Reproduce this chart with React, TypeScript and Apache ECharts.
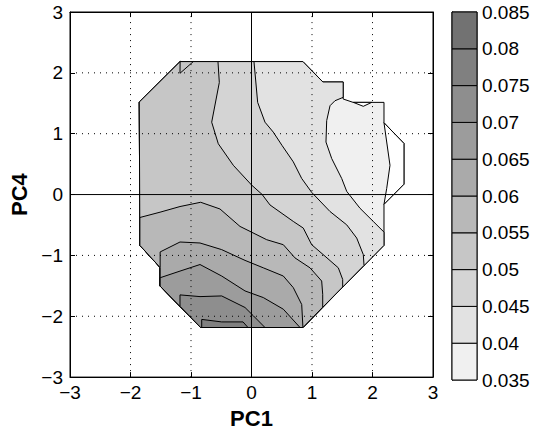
import React, { useEffect, useRef } from "react";
import * as echarts from "echarts";

type Pt = [number, number];

// Contour levels (colour-bar ticks) and grey value of each band between two levels
const levels = [0.035, 0.04, 0.045, 0.05, 0.055, 0.06, 0.065, 0.07, 0.075, 0.08, 0.085];
const bandGray = [240, 226, 212, 198, 184, 170, 156, 142, 128, 114];

// Axis ticks / grid
const axisMin = -3;
const axisMax = 3;
const dottedGrid = [-2, -1, 1, 2];
const zeroLines = [0];

// Outline of the region where the surface is defined (PC1, PC4)
const boundary: Pt[] = [
  [-1.18, 2.185], [0.85, 2.185], [1.18, 1.85], [1.515, 1.85], [1.515, 1.57],
  [1.68, 1.515], [2.19, 1.515], [2.19, 1.18], [2.52, 0.84], [2.52, 0.17],
  [2.19, -0.16], [2.19, -0.835], [0.85, -2.185], [-0.84, -2.185], [-1.51, -1.505],
  [-1.51, -1.2], [-1.845, -0.835], [-1.855, 1.52],
];

// Contour lines (PC1, PC4)
const contour035: Pt[] = [[2.19, 1.18], [2.289, 0.481], [2.235, 0.101], [2.19, -0.16]];
const contour035b: Pt[] = [[1.683, 1.515], [1.848, 1.45], [1.987, 1.515]];
const contour040: Pt[] = [
  [1.515, 1.597], [1.38, 1.542], [1.298, 1.46], [1.243, 1.215], [1.231, 0.863],
  [1.326, 0.591], [1.491, 0.264], [1.574, 0.052], [1.793, -0.225], [2.013, -0.442], [2.19, -0.617],
];
const contour045: Pt[] = [
  [0.041, 2.185], [0.102, 1.515], [0.223, 1.189], [0.36, 1.026], [0.504, 0.808],
  [0.691, 0.537], [0.83, 0.264], [0.995, 0.036], [1.298, -0.279], [1.574, -0.498],
  [1.739, -0.715], [1.848, -0.987], [1.86, -1.164],
];
const contour050: Pt[] = [
  [-0.554, 2.185], [-0.532, 1.842], [-0.658, 1.189], [-0.549, 0.835], [-0.301, 0.481],
  [0.003, 0.155], [0.174, 0.003], [0.306, -0.171], [0.691, -0.442], [0.856, -0.551],
  [0.995, -0.824], [1.215, -1.013], [1.435, -1.204], [1.507, -1.395], [1.507, -1.519],
];
const contour055: Pt[] = [
  [-1.845, -0.377], [-1.512, -0.29], [-1.182, -0.197], [-0.84, -0.127], [-0.521, -0.237],
  [-0.19, -0.524], [-0.025, -0.605], [0.251, -0.742], [0.526, -0.824], [0.719, -1.041],
  [0.967, -1.204], [1.16, -1.421], [1.177, -1.639], [1.177, -1.851],
];
const contour060: Pt[] = [
  [-1.51, -1.2], [-1.51, -0.943], [-1.182, -0.78], [-0.851, -0.796], [-0.493, -0.905],
  [-0.107, -1.082], [0.195, -1.204], [0.526, -1.339], [0.691, -1.53], [0.83, -1.807], [0.85, -2.185],
];
const contour065: Pt[] = [
  [-1.51, -1.367], [-1.182, -1.258], [-0.851, -1.15], [-0.493, -1.339], [-0.107, -1.584],
  [0.195, -1.693], [0.526, -1.884], [0.802, -2.185],
];
const contour070: Pt[] = [
  [-1.182, -1.836], [-1.182, -1.649], [-0.851, -1.677], [-0.493, -1.666], [-0.107, -1.856],
  [0.03, -1.992], [0.223, -2.185],
];
const contour075: Pt[] = [
  [-0.823, -2.185], [-0.823, -2.052], [-0.493, -2.093], [-0.14, -2.093], [-0.058, -2.185],
];
const contourNotch: Pt[] = [[-1.18, 2.185], [-1.182, 1.993], [-0.962, 2.185]];

const gray = (g: number) => `rgb(${g},${g},${g})`;
const FONT = "Liberation Sans, Arial, Helvetica, sans-serif";
const fmtMinus = (v: number) => (v < 0 ? "\u2212" + Math.abs(v) : String(v));

export default function App() {
  const ref = useRef<HTMLDivElement>(null);

  useEffect(() => {
    if (!ref.current) return;
    const chart = echarts.init(ref.current, undefined, { renderer: "svg" });
    const B = boundary;

    const fills: { pts: Pt[]; color: string }[] = [
      { pts: B, color: gray(bandGray[0]) },
      { pts: [...contour035, B[9], B[8]], color: "#ffffff" },
      { pts: contour035b, color: "#ffffff" },
      { pts: [...contour040, ...B.slice(11), ...B.slice(0, 4)], color: gray(bandGray[1]) },
      { pts: [...contour045, ...B.slice(12), B[0]], color: gray(bandGray[2]) },
      { pts: [...contour050, ...B.slice(12), B[0]], color: gray(bandGray[3]) },
      { pts: [...contour055, ...B.slice(12, 17)], color: gray(bandGray[4]) },
      { pts: [...contour060, B[13], B[14]], color: gray(bandGray[5]) },
      { pts: [...contour065, B[13], B[14]], color: gray(bandGray[6]) },
      { pts: [...contour070, B[13]], color: gray(bandGray[7]) },
      { pts: contour075, color: gray(bandGray[8]) },
      { pts: contourNotch, color: gray(bandGray[3]) },
    ];

    const gridLines: [number, number, number][] = [];
    dottedGrid.forEach((v) => { gridLines.push([0, v, 0]); gridLines.push([1, v, 0]); });
    zeroLines.forEach((v) => { gridLines.push([0, v, 1]); gridLines.push([1, v, 1]); });

    const axisCommon = {
      type: "value" as const,
      min: axisMin,
      max: axisMax,
      interval: 1,
      splitLine: { show: false },
      axisLine: { show: true, onZero: false, lineStyle: { color: "#000", width: 1 } },
      axisTick: { show: true, inside: true, length: 5, lineStyle: { color: "#000" } },
    };

    const option: any = {
      animation: false,
      backgroundColor: "#fff",
      grid: [
        { left: 70, top: 12, width: 363, height: 368, show: true, borderColor: "#000", borderWidth: 1, backgroundColor: "#fff" },
        { left: 452, top: 12, width: 25, height: 368, show: true, borderColor: "#000", borderWidth: 1 },
      ],
      xAxis: [
        {
          ...axisCommon, gridIndex: 0, position: "bottom",
          axisLabel: { color: "#000", fontSize: 19, fontFamily: FONT, margin: 6, formatter: fmtMinus, showMinLabel: true, showMaxLabel: true },
          name: "PC1", nameLocation: "middle", nameGap: 28,
          nameTextStyle: { color: "#000", fontSize: 22, fontWeight: "bold", fontFamily: FONT },
        },
        { ...axisCommon, gridIndex: 0, position: "top", axisLabel: { show: false } },
        { type: "value", gridIndex: 1, min: 0, max: 1, show: false },
      ],
      yAxis: [
        {
          ...axisCommon, gridIndex: 0, position: "left",
          axisLabel: { color: "#000", fontSize: 19, fontFamily: FONT, margin: 7, formatter: fmtMinus, showMinLabel: true, showMaxLabel: true },
          name: "PC4", nameLocation: "middle", nameGap: 33,
          nameTextStyle: { color: "#000", fontSize: 22, fontWeight: "bold", fontFamily: FONT },
        },
        { ...axisCommon, gridIndex: 0, position: "right", axisLabel: { show: false } },
        {
          type: "value", gridIndex: 1, position: "right", min: levels[0], max: levels[levels.length - 1], interval: 0.005,
          splitLine: { show: false },
          axisLine: { show: true, lineStyle: { color: "#000" } },
          axisTick: { show: false },
          axisLabel: {
            color: "#000", fontSize: 19, fontFamily: FONT, margin: 5, showMinLabel: true, showMaxLabel: true,
            formatter: (v: number) => String(parseFloat(v.toFixed(3))),
          },
        },
      ],
      series: [
        {
          type: "custom",
          xAxisIndex: 0,
          yAxisIndex: 0,
          z: 2,
          silent: true,
          data: fills.map((_, i) => [i]),
          renderItem: (params: any, api: any) => {
            const f = fills[params.dataIndex];
            return {
              type: "polygon",
              shape: { points: f.pts.map((p) => api.coord(p)) },
              style: { fill: f.color, stroke: "#000", lineWidth: 1 },
            };
          },
        },
        {
          type: "custom",
          xAxisIndex: 0,
          yAxisIndex: 0,
          z: 3,
          silent: true,
          data: gridLines,
          renderItem: (params: any, api: any) => {
            const [dir, v, solid] = gridLines[params.dataIndex];
            const a = dir === 0 ? api.coord([v, axisMin]) : api.coord([axisMin, v]);
            const b = dir === 0 ? api.coord([v, axisMax]) : api.coord([axisMax, v]);
            return {
              type: "line",
              shape: { x1: a[0], y1: a[1], x2: b[0], y2: b[1] },
              style: solid
                ? { stroke: "#000", lineWidth: 1 }
                : { stroke: "#000", lineWidth: 1, lineDash: [1, 5] },
            };
          },
        },
        {
          type: "custom",
          xAxisIndex: 2,
          yAxisIndex: 2,
          z: 2,
          silent: true,
          data: bandGray.map((_, i) => [i]),
          renderItem: (params: any, api: any) => {
            const i = params.dataIndex;
            const p0 = api.coord([0, levels[i]]);
            const p1 = api.coord([1, levels[i + 1]]);
            return {
              type: "rect",
              shape: { x: p0[0], y: p1[1], width: p1[0] - p0[0], height: p0[1] - p1[1] },
              style: { fill: gray(bandGray[i]), stroke: "#000", lineWidth: 1 },
            };
          },
        },
      ],
    };

    chart.setOption(option);
    return () => chart.dispose();
  }, []);

  return <div ref={ref} style={{ position: "absolute", left: 0, top: 0, width: 539, height: 434 }} />;
}
